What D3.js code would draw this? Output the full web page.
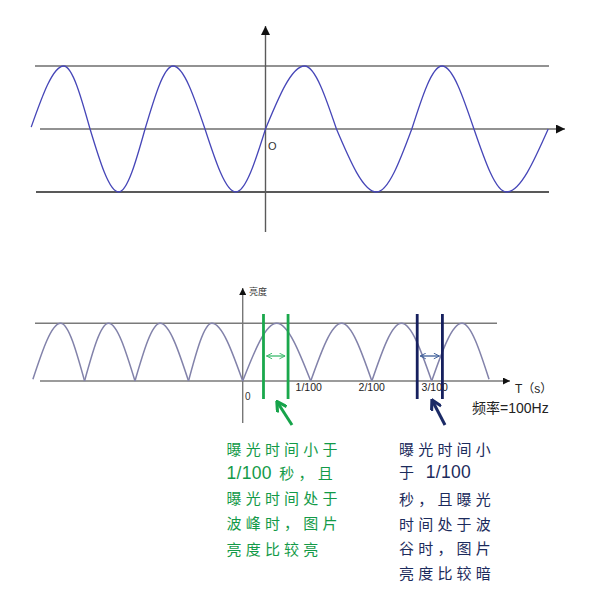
<!DOCTYPE html>
<html>
<head>
<meta charset="utf-8">
<script src="https://cdn.jsdelivr.net/npm/d3@7"></script>
<style>
html,body{margin:0;padding:0;background:#fff;}
svg{display:block;}
</style>
</head>
<body>
<svg id="chart" width="589" height="602"></svg>
<script>
// ---------- DATA ----------
// Top chart: alternating current (ms), zero crossings and extremes
const topCrossings = [-42.6, -31.9, -21.9, -11.0, 0, 12.9, 26.6, 37.9, 51.4];
const topExtremes = [-36.7, -26.7, -16.8, -5.4, 7.1, 20.2, 32.1, 43.8];
const topExtremeValues = [1, -1, 1, -1, 1, -1, 1, -1];
const topStartValue = 0.03;

// Bottom chart: brightness (ms), troughs and peaks
const botTroughs = [-33.3, -25.1, -17.1, -8.6, 0, 10.8, 20.5, 30.0, 39.1];
const botTroughValues = [0.03, 0, 0, 0, 0, 0, 0, 0, 0.03];
const botPeaks = [-28.9, -21.3, -13.1, -4.9, 5.4, 15.7, 25.2, 34.8];
const botPeakValue = 1;

// Exposure windows (ms)
const exposureGreen = [3.3, 7.2];
const exposureNavy = [27.7, 31.7];

// Tick labels
const tickValues = [10, 20, 30];
const tickLabels = ["1/100", "2/100", "3/100"];

// Texts
const yAxisLabel = "亮度";
const xAxisLabel = "T（s）";
const freqLabel = "频率=100Hz";
const originTop = "O";
const originBot = "0";
const greenText = [["曝光时间小于"], ["1/100", " 秒，且"], ["曝光时间处于"], ["波峰时，图片"], ["亮度比较亮"]];
const navyText = [["曝光时间小"], ["于 ", "1/100"], ["秒，且曝光"], ["时间处于波"], ["谷时，图片"], ["亮度比较暗"]];

// ---------- SCALES ----------
const svg = d3.select("#chart");
const xTop = d3.scaleLinear().domain([0, 20]).range([265.5, 375.5]);
const yTop = d3.scaleLinear().domain([-1, 1]).range([192, 66]);
const xBot = d3.scaleLinear().domain([0, 30]).range([242.7, 431.7]);
const yBot = d3.scaleLinear().domain([0, 1]).range([381, 323.3]);

// arrowhead markers
const defs = svg.append("defs");
function marker(id, color, w, h) {
  defs.append("marker").attr("id", id)
    .attr("viewBox", "0 0 10 10").attr("refX", 10).attr("refY", 5)
    .attr("markerUnits", "userSpaceOnUse")
    .attr("markerWidth", w).attr("markerHeight", h).attr("orient", "auto-start-reverse")
    .append("path").attr("d", "M0,0 L10,5 L0,10 Z").attr("fill", color);
}
marker("arrTop", "#111", 10, 9);
marker("arrBot", "#111", 8, 7);
function openMarker(id, color) {
  defs.append("marker").attr("id", id)
    .attr("viewBox", "0 0 10 10").attr("refX", 9).attr("refY", 5)
    .attr("markerUnits", "userSpaceOnUse")
    .attr("markerWidth", 7).attr("markerHeight", 7).attr("orient", "auto-start-reverse")
    .append("path").attr("d", "M1,1 L9,5 L1,9").attr("fill", "none").attr("stroke", color).attr("stroke-width", 1.4);
}
openMarker("dblGreen", "#3dbb6e");
openMarker("dblNavy", "#3f5f9a");
function bigArrow(id, color) {
  defs.append("marker").attr("id", id)
    .attr("viewBox", "0 0 10 10").attr("refX", 8).attr("refY", 5)
    .attr("markerUnits", "userSpaceOnUse")
    .attr("markerWidth", 12).attr("markerHeight", 12).attr("orient", "auto")
    .append("path").attr("d", "M1,0.5 L9,5 L1,9.5").attr("fill", "none").attr("stroke", color).attr("stroke-width", 2.6);
}
bigArrow("bigGreen", "#16a34a");
bigArrow("bigNavy", "#1b2a66");

// ---------- TOP CHART ----------
const gTop = svg.append("g");
gTop.append("line").attr("x1", 35).attr("x2", 549).attr("y1", yTop(1)).attr("y2", yTop(1))
  .attr("stroke", "#6e6e6e").attr("stroke-width", 1.4);
gTop.append("line").attr("x1", 40).attr("x2", 565).attr("y1", yTop(0)).attr("y2", yTop(0))
  .attr("stroke", "#6e6e6e").attr("stroke-width", 1.4).attr("marker-end", "url(#arrTop)");
gTop.append("line").attr("x1", 36).attr("x2", 549).attr("y1", yTop(-1)).attr("y2", yTop(-1))
  .attr("stroke", "#222").attr("stroke-width", 1.4);
gTop.append("line").attr("x1", xTop(0)).attr("x2", xTop(0)).attr("y1", 232).attr("y2", 26)
  .attr("stroke", "#5a5a5a").attr("stroke-width", 1.4).attr("marker-end", "url(#arrTop)");
gTop.append("text").attr("x", 268).attr("y", 150).text(originTop)
  .attr("font-family", "Liberation Sans, Arial, sans-serif").attr("font-size", 11).attr("fill", "#333");

const lineMono = d3.line().x(d => d[0]).y(d => d[1]).curve(d3.curveMonotoneX);
topExtremes.forEach((e, i) => {
  const v0 = i === 0 ? topStartValue : 0;
  const pts = [
    [xTop(topCrossings[i]), yTop(v0)],
    [xTop(e), yTop(topExtremeValues[i])],
    [xTop(topCrossings[i + 1]), yTop(0)]
  ];
  gTop.append("path").attr("d", lineMono(pts)).attr("fill", "none")
    .attr("stroke", "#4646b8").attr("stroke-width", 1.3);
});

// ---------- BOTTOM CHART ----------
const gBot = svg.append("g");
gBot.append("line").attr("x1", 35).attr("x2", 497).attr("y1", yBot(1)).attr("y2", yBot(1))
  .attr("stroke", "#7a7a7a").attr("stroke-width", 1.4);
gBot.append("line").attr("x1", 40).attr("x2", 510).attr("y1", yBot(0)).attr("y2", yBot(0))
  .attr("stroke", "#7a7a7a").attr("stroke-width", 1.4).attr("marker-end", "url(#arrBot)");
gBot.append("line").attr("x1", xBot(0)).attr("x2", xBot(0)).attr("y1", 423).attr("y2", 288)
  .attr("stroke", "#777").attr("stroke-width", 1.4).attr("marker-end", "url(#arrBot)");

botPeaks.forEach((p, i) => {
  const pts = [
    [xBot(botTroughs[i]), yBot(botTroughValues[i])],
    [xBot(p), yBot(botPeakValue)],
    [xBot(botTroughs[i + 1]), yBot(botTroughValues[i + 1])]
  ];
  gBot.append("path").attr("d", lineMono(pts)).attr("fill", "none")
    .attr("stroke", "#8282aa").attr("stroke-width", 1.5);
});

gBot.append("text").attr("x", 249).attr("y", 295).text(yAxisLabel)
  .attr("font-family", "Noto Sans CJK SC, sans-serif").attr("font-size", 9).attr("fill", "#333");
gBot.append("text").attr("x", 245).attr("y", 400).text(originBot)
  .attr("font-family", "Liberation Sans, Arial, sans-serif").attr("font-size", 10).attr("fill", "#333");
tickValues.forEach((t, i) => {
  gBot.append("text").attr("x", xBot(t) + 3).attr("y", 391).attr("text-anchor", "middle")
    .text(tickLabels[i]).attr("font-family", "Liberation Sans, Arial, sans-serif")
    .attr("font-size", 10.5).attr("fill", "#222");
});
gBot.append("text").attr("x", 515).attr("y", 393).text(xAxisLabel)
  .attr("font-family", "Liberation Sans, Noto Sans CJK SC, sans-serif").attr("font-size", 12).attr("fill", "#222");
gBot.append("text").attr("x", 472).attr("y", 413).text(freqLabel)
  .attr("font-family", "Liberation Sans, Noto Sans CJK SC, sans-serif").attr("font-size", 14).attr("fill", "#222");

// exposure windows
function exposure(win, color, dblColor, dblMarker) {
  win.forEach(t => {
    gBot.append("line").attr("x1", xBot(t)).attr("x2", xBot(t)).attr("y1", 314).attr("y2", 399)
      .attr("stroke", color).attr("stroke-width", 2.8);
  });
  gBot.append("line").attr("x1", xBot(win[0]) + 3).attr("x2", xBot(win[1]) - 3)
    .attr("y1", 356).attr("y2", 356).attr("stroke", dblColor).attr("stroke-width", 1.3)
    .attr("marker-start", `url(#${dblMarker})`).attr("marker-end", `url(#${dblMarker})`);
}
exposure(exposureGreen, "#1aa84c", "#3dbb6e", "dblGreen");
exposure(exposureNavy, "#16205e", "#3f5f9a", "dblNavy");

// pointer arrows
gBot.append("line").attr("x1", 292).attr("y1", 425).attr("x2", 277.5).attr("y2", 402.5)
  .attr("stroke", "#16a34a").attr("stroke-width", 3).attr("marker-end", "url(#bigGreen)");
gBot.append("line").attr("x1", 445).attr("y1", 425).attr("x2", 432.5).attr("y2", 401)
  .attr("stroke", "#1b2a66").attr("stroke-width", 3).attr("marker-end", "url(#bigNavy)");

// ---------- TEXT BLOCKS ----------
const cjk = "Noto Sans CJK SC, sans-serif";
const gText = svg.append("g");
function block(lines, x, ys, color) {
  lines.forEach((parts, i) => {
    const t = gText.append("text").attr("x", x).attr("y", ys[i]).attr("fill", color)
      .attr("font-family", cjk).attr("font-size", 15);
    parts.forEach(p => {
      const isNum = /^[0-9\/]+$/.test(p);
      t.append("tspan").text(p)
        .attr("font-family", isNum ? "Liberation Sans, Arial, sans-serif" : cjk)
        .attr("font-size", isNum ? 17.5 : 15)
        .attr("letter-spacing", isNum ? 0.3 : 4.2);
    });
  });
}
block(greenText, 226.5, [454.5, 479, 503.5, 528.5, 555], "#139a48");
block(navyText, 399, [455, 477.5, 505, 530, 553.5, 579], "#1c2b5c");
</script>
</body>
</html>
